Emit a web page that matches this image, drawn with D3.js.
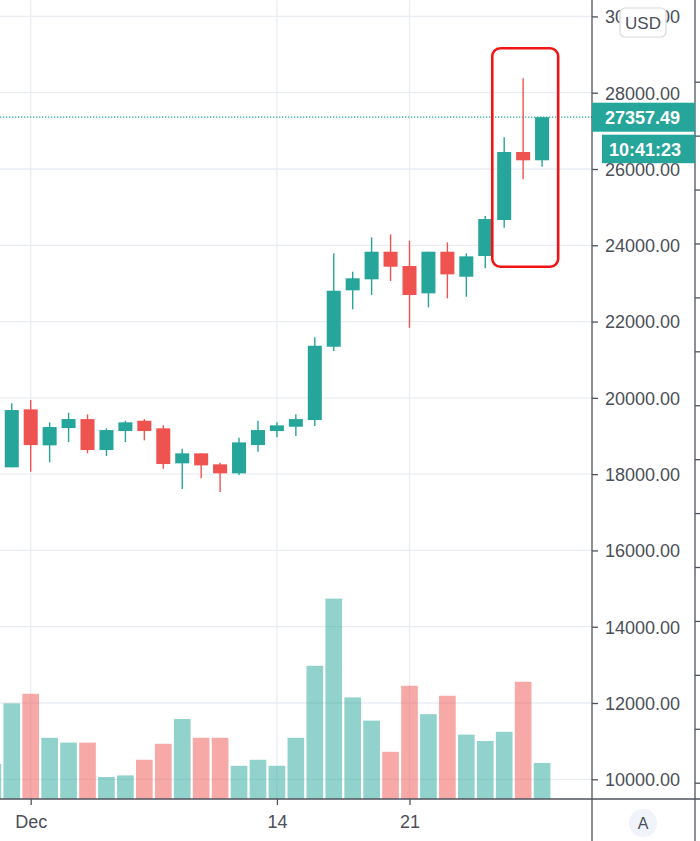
<!DOCTYPE html>
<html>
<head>
<meta charset="utf-8">
<script src="https://cdn.jsdelivr.net/npm/d3@7"></script>
<style>
	body { margin: 0; background: #ffffff; }
	svg { display: block; font-family: "Liberation Sans", Arial, sans-serif; }
</style>
</head>
<body>
<div id="chart-container"></div>
<script>
// Daily BTC/USD candles
const dates = [
	"2020-11-29", "2020-11-30", "2020-12-01", "2020-12-02", "2020-12-03",
	"2020-12-04", "2020-12-05", "2020-12-06", "2020-12-07", "2020-12-08",
	"2020-12-09", "2020-12-10", "2020-12-11", "2020-12-12", "2020-12-13",
	"2020-12-14", "2020-12-15", "2020-12-16", "2020-12-17", "2020-12-18",
	"2020-12-19", "2020-12-20", "2020-12-21", "2020-12-22", "2020-12-23",
	"2020-12-24", "2020-12-25", "2020-12-26", "2020-12-27", "2020-12-28",
];
const opens = [
	17730, 18178, 19699, 18755, 19208, 19444, 18632, 19130, 19400, 19201,
	18283, 18545, 18257, 18021, 18763, 19130, 19243, 19418, 21340, 22819,
	23107, 23831, 23456, 22740, 23831, 23175, 23718, 24662, 26445, 26228,
];
const highs = [
	18350, 19856, 19943, 19358, 19610, 19568, 19201, 19400, 19444, 19279,
	18666, 18545, 18299, 18954, 19400, 19358, 19568, 21587, 23789, 23307,
	24209, 24287, 24119, 23831, 24077, 23789, 24767, 26831, 28378, 27357.49,
];
const lows = [
	17550, 18178, 18063, 18309, 18841, 18545, 18474, 18841, 18886, 18141,
	17609, 17890, 17530, 17976, 18587, 18964, 18999, 19261, 21227, 22321,
	22696, 23063, 21838, 22373, 22609, 22651, 23396, 24460, 25729, 26060,
];
const closes = [
	18178, 19680, 18763, 19235, 19444, 18632, 19156, 19358, 19130, 18265,
	18545, 18230, 18021, 18833, 19156, 19279, 19444, 21366, 22808, 23134,
	23831, 23438, 22696, 23831, 23238, 23710, 24688, 26445, 26228, 27357.49,
];
const volumes = [
	8.8, 23.9, 26.3, 15.3, 14.1, 14.1, 5.5, 5.9, 9.8, 13.8,
	20.0, 15.3, 15.3, 8.3, 9.8, 8.3, 15.3, 33.3, 50.1, 25.4,
	19.6, 11.8, 28.3, 21.2, 25.8, 16.1, 14.5, 16.8, 29.3, 9.0,
];

// Axis labels
const priceTicks = [10000, 12000, 14000, 16000, 18000, 20000, 22000, 24000, 26000, 28000, 30000];
const timeTicks = [
	{ date: "2020-12-01", label: "Dec" },
	{ date: "2020-12-14", label: "14" },
	{ date: "2020-12-21", label: "21" },
];
const lastPrice = 27357.49;
const countdown = "10:41:23";
const currency = "USD";
// candles inside the red frame
const highlightDates = ["2020-12-26", "2020-12-28"];

const parseDate = d3.utcParse("%Y-%m-%d");
const candles = dates.map((d, i) => ({
	date: parseDate(d),
	open: opens[i],
	high: highs[i],
	low: lows[i],
	close: closes[i],
	volume: volumes[i],
}));

const width = 700;
const height = 841;
const paneRight = 592;
const paneBottom = 799;
const scaleRight = 695;

const upColor = "#26a69a";
const downColor = "#ef5350";
const gridColor = "#e9edf2";
const axisColor = "#50535e";
const textColor = "#4c4f58";

// Scales
const x = d3
	.scaleUtc()
	.domain([parseDate("2020-12-01"), parseDate("2020-12-21")])
	.range([30.7, 409.5]);
const dayWidth = x(parseDate("2020-12-02")) - x(parseDate("2020-12-01"));

const y = d3.scaleLinear().domain([10000, 28000]).range([779.3, 92.7]);

const yVolume = d3.scaleLinear().domain([0, 50]).range([paneBottom, paneBottom - 200]);

// second (hidden) scale only shows its tick marks on the far right
const yOuter = d3.scaleLinear().domain([0, 13]).range([782.7, 81.7]);

const svg = d3
	.select("#chart-container")
	.append("svg")
	.attr("width", width)
	.attr("height", height);

svg
	.append("defs")
	.append("clipPath")
	.attr("id", "pane-clip")
	.append("rect")
	.attr("x", 0)
	.attr("y", 0)
	.attr("width", paneRight)
	.attr("height", paneBottom);

const pane = svg.append("g").attr("clip-path", "url(#pane-clip)");

// Grid
pane
	.selectAll(".h-grid")
	.data(priceTicks)
	.enter()
	.append("line")
	.attr("x1", 0)
	.attr("x2", paneRight)
	.attr("y1", (d) => y(d))
	.attr("y2", (d) => y(d))
	.style("stroke", gridColor)
	.style("stroke-width", 1.3);

pane
	.selectAll(".v-grid")
	.data(timeTicks)
	.enter()
	.append("line")
	.attr("x1", (d) => x(parseDate(d.date)))
	.attr("x2", (d) => x(parseDate(d.date)))
	.attr("y1", 0)
	.attr("y2", paneBottom)
	.style("stroke", gridColor)
	.style("stroke-width", 1.3);

// Volume bars
const barWidth = dayWidth * 0.88;
pane
	.selectAll(".volume")
	.data(candles)
	.enter()
	.append("rect")
	.attr("x", (d) => x(d.date) - barWidth / 2)
	.attr("y", (d) => yVolume(d.volume))
	.attr("width", barWidth)
	.attr("height", (d) => yVolume(0) - yVolume(d.volume))
	.style("fill", (d) => (d.close >= d.open ? upColor : downColor))
	.style("opacity", 0.5);

// Last price line
pane
	.append("line")
	.attr("x1", 0)
	.attr("x2", paneRight)
	.attr("y1", y(lastPrice))
	.attr("y2", y(lastPrice))
	.style("stroke", upColor)
	.style("stroke-width", 1.3)
	.style("stroke-dasharray", "1.3,1.7");

// Candles
const bodyWidth = dayWidth * 0.74;
const candle = pane
	.selectAll(".candle")
	.data(candles)
	.enter()
	.append("g");

candle
	.append("line")
	.attr("x1", (d) => x(d.date))
	.attr("x2", (d) => x(d.date))
	.attr("y1", (d) => y(d.high))
	.attr("y2", (d) => y(d.low))
	.style("stroke", (d) => (d.close >= d.open ? upColor : downColor))
	.style("stroke-width", 1.4);

candle
	.append("rect")
	.attr("x", (d) => x(d.date) - bodyWidth / 2)
	.attr("y", (d) => y(Math.max(d.open, d.close)))
	.attr("width", bodyWidth)
	.attr("height", (d) => Math.max(1, Math.abs(y(d.open) - y(d.close))))
	.style("fill", (d) => (d.close >= d.open ? upColor : downColor));

// Red frame round the last three candles
const hiCandles = candles.filter(
	(d) => d.date >= parseDate(highlightDates[0]) && d.date <= parseDate(highlightDates[1])
);
const frameLeft = x(parseDate(highlightDates[0])) - dayWidth * 0.63;
const frameRight = x(parseDate(highlightDates[1])) + dayWidth * 0.85;
const frameTop = y(d3.max(hiCandles, (d) => d.high)) - 30;
const frameBottom = y(d3.min(hiCandles, (d) => d.low)) + 39;
svg
	.append("rect")
	.attr("x", frameLeft)
	.attr("y", frameTop)
	.attr("width", frameRight - frameLeft)
	.attr("height", frameBottom - frameTop)
	.attr("rx", 8)
	.style("fill", "none")
	.style("stroke", "#f01414")
	.style("stroke-width", 2.6);

// Frame lines
svg
	.append("line")
	.attr("x1", 0)
	.attr("x2", width)
	.attr("y1", paneBottom)
	.attr("y2", paneBottom)
	.style("stroke", axisColor)
	.style("stroke-width", 1.3);

[paneRight, scaleRight].forEach((lx) => {
	svg
		.append("line")
		.attr("x1", lx)
		.attr("x2", lx)
		.attr("y1", 0)
		.attr("y2", height)
		.style("stroke", axisColor)
		.style("stroke-width", 1.3);
});

// Price axis
const priceAxis = svg
	.append("g")
	.attr("transform", `translate(${paneRight}, 0)`)
	.call(
		d3
			.axisRight(y)
			.tickValues(priceTicks)
			.tickFormat(d3.format(".2f"))
			.tickSize(6)
			.tickPadding(7)
	);
priceAxis.select(".domain").remove();
priceAxis.selectAll("line").style("stroke", axisColor).style("stroke-width", 1.3);
priceAxis
	.selectAll("text")
	.style("font-size", "18px")
	.style("fill", textColor)
	.attr("dy", "0.35em");

// Tick marks of the outer scale
svg
	.append("g")
	.attr("transform", `translate(${scaleRight}, 0)`)
	.call(d3.axisRight(yOuter).ticks(13).tickSize(6).tickFormat(""))
	.call((g) => g.select(".domain").remove())
	.selectAll("line")
	.style("stroke", axisColor)
	.style("stroke-width", 1.3);

// Time axis
const timeAxis = svg
	.append("g")
	.attr("transform", `translate(0, ${paneBottom})`)
	.call(
		d3
			.axisBottom(x)
			.tickValues(timeTicks.map((d) => parseDate(d.date)))
			.tickFormat((d, i) => timeTicks[i].label)
			.tickSize(6)
			.tickPadding(10)
	);
timeAxis.select(".domain").remove();
timeAxis.selectAll("line").style("stroke", axisColor).style("stroke-width", 1.3);
timeAxis.selectAll("text").style("font-size", "18px").style("fill", textColor);

// Last price label and countdown
const labelY = y(lastPrice);
svg
	.append("rect")
	.attr("x", paneRight)
	.attr("y", labelY - 14.5)
	.attr("width", scaleRight - paneRight)
	.attr("height", 29)
	.style("fill", upColor);
svg
	.append("text")
	.attr("x", 605)
	.attr("y", labelY)
	.attr("dy", "0.36em")
	.style("font-size", "18px")
	.style("font-weight", "bold")
	.style("fill", "#ffffff")
	.text(d3.format(".2f")(lastPrice));

svg
	.append("rect")
	.attr("x", 602)
	.attr("y", labelY + 17.5)
	.attr("width", scaleRight - 602)
	.attr("height", 28.5)
	.style("fill", upColor);
svg
	.append("text")
	.attr("x", 609)
	.attr("y", labelY + 32)
	.attr("dy", "0.36em")
	.style("font-size", "18px")
	.style("font-weight", "bold")
	.style("fill", "#ffffff")
	.text(countdown);

// Currency badge (sits on top of the 30000 label, as in the terminal)
svg
	.append("rect")
	.attr("x", 620)
	.attr("y", 8)
	.attr("width", 46)
	.attr("height", 29)
	.attr("rx", 5)
	.style("fill", "#ffffff")
	.style("stroke", "#d6d9e0")
	.style("stroke-width", 1.2);
svg
	.append("text")
	.attr("x", 643)
	.attr("y", 22.5)
	.attr("dy", "0.36em")
	.attr("text-anchor", "middle")
	.style("font-size", "17px")
	.style("fill", textColor)
	.text(currency);

// Auto-scale button
svg
	.append("circle")
	.attr("cx", 643)
	.attr("cy", 823)
	.attr("r", 14)
	.style("fill", "#f0f3fa");
svg
	.append("text")
	.attr("x", 643)
	.attr("y", 823)
	.attr("dy", "0.36em")
	.attr("text-anchor", "middle")
	.style("font-size", "16px")
	.style("fill", textColor)
	.text("A");
</script>
</body>
</html>
